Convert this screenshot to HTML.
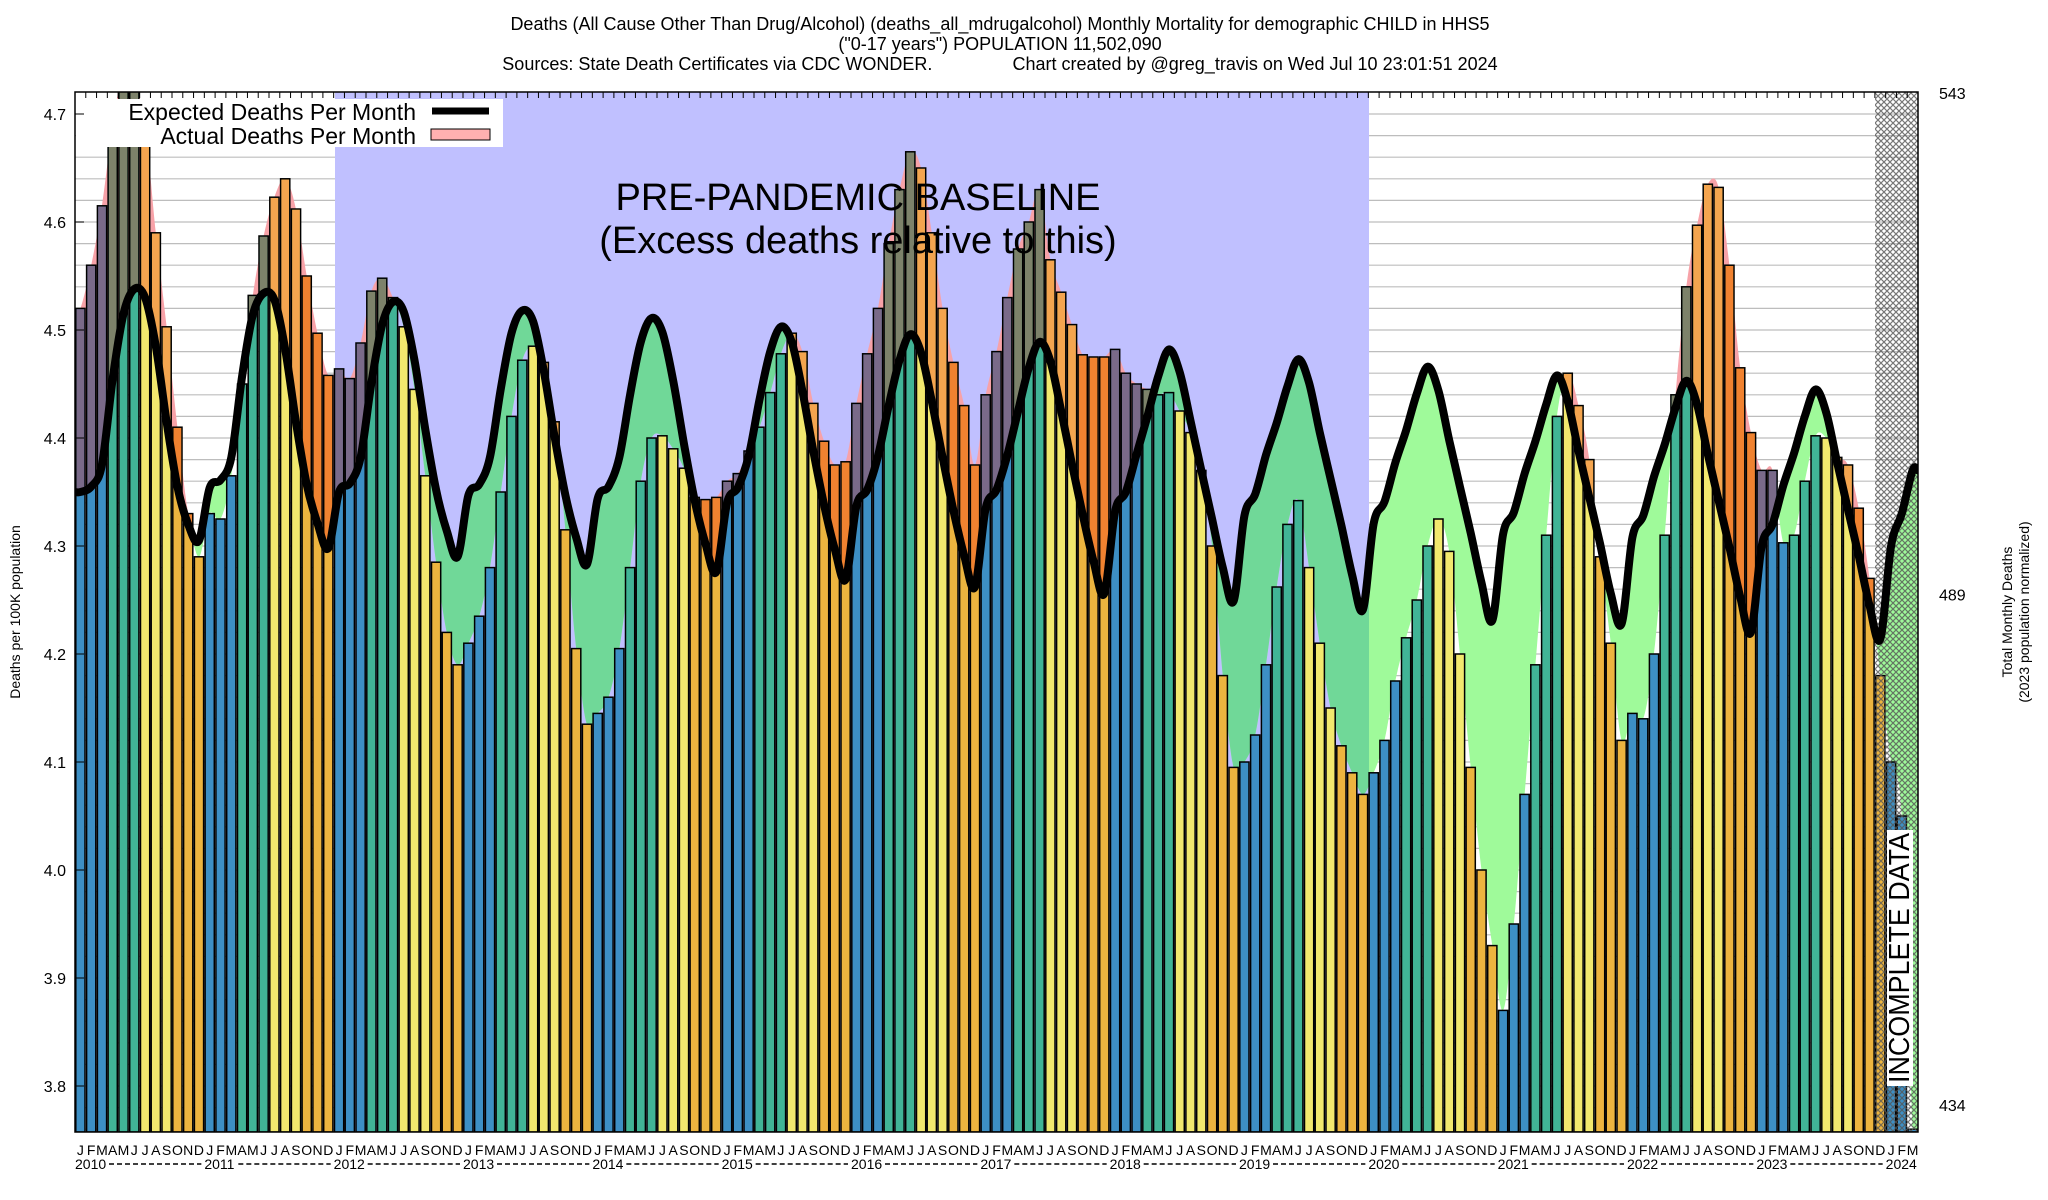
<!DOCTYPE html>
<html><head><meta charset="utf-8"><style>
body{margin:0;background:#fff;}
svg{display:block;font-family:"Liberation Sans",sans-serif;}
</style></head><body>
<svg id="chart" width="2048" height="1200" viewBox="0 0 2048 1200" xmlns="http://www.w3.org/2000/svg">
<defs>
<pattern id="hatch" patternUnits="userSpaceOnUse" width="6" height="6">
<path d="M0,0 L6,6 M6,0 L0,6" stroke="#555" stroke-width="1.2"/>
</pattern>
<clipPath id="plotClip"><rect x="75" y="92" width="1843" height="1040"/></clipPath>
<clipPath id="baseClip"><rect x="335" y="92" width="1034" height="1040"/></clipPath>
<clipPath id="aboveExp"><path id="aboveExpPath"/></clipPath>
<clipPath id="aboveAct"><path id="aboveActPath"/></clipPath>
</defs>
<g id="titles" font-size="18" text-anchor="middle" fill="#000">
<text x="1000" y="30">Deaths (All Cause Other Than Drug/Alcohol) (deaths_all_mdrugalcohol) Monthly Mortality for demographic CHILD in HHS5</text>
<text x="1000" y="50">("0-17 years") POPULATION 11,502,090</text>
<text x="1000" y="70" xml:space="preserve">Sources: State Death Certificates via CDC WONDER.                Chart created by @greg_travis on Wed Jul 10 23:01:51 2024</text>
</g>
<rect x="75" y="92" width="1843" height="1040" fill="#fff"/>
<g id="grid"></g>
<rect x="335" y="92" width="1034" height="1040" fill="#c0c0ff"/>
<g id="fills" clip-path="url(#plotClip)"></g>
<g id="bars" clip-path="url(#plotClip)"></g>
<g id="overlay" clip-path="url(#plotClip)"></g>
<rect x="1875" y="92" width="43" height="1040" fill="url(#hatch)" opacity="0.8"/>
<g id="line" clip-path="url(#plotClip)"></g>
<text x="858" y="210" font-size="38" text-anchor="middle">PRE-PANDEMIC BASELINE</text>
<text x="858" y="253" font-size="38" text-anchor="middle">(Excess deaths relative to this)</text>
<g>
<rect x="76" y="99" width="427" height="48" fill="#fff"/>
<text x="416" y="120" font-size="23" text-anchor="end">Expected Deaths Per Month</text>
<line x1="432" y1="111" x2="489" y2="111" stroke="#000" stroke-width="7"/>
<text x="416" y="144" font-size="23" text-anchor="end">Actual Deaths Per Month</text>
<rect x="431" y="129" width="59" height="11" fill="#ffb0b0" stroke="#000" stroke-width="1"/>
</g>
<g>
<rect x="1887" y="830" width="26" height="256" fill="#fff"/>
<text x="1909" y="1083" font-size="29" transform="rotate(-90 1909 1083)" textLength="250" lengthAdjust="spacingAndGlyphs">INCOMPLETE DATA</text>
</g>
<rect x="75" y="92" width="1843" height="1040" fill="none" stroke="#000" stroke-width="1.5"/>
<g id="axes"></g>
<text x="20" y="612" font-size="14" text-anchor="middle" transform="rotate(-90 20 612)">Deaths per 100K population</text>
<g font-size="14" text-anchor="middle">
<text x="2012" y="612" transform="rotate(-90 2012 612)">Total Monthly Deaths</text>
<text x="2029" y="612" transform="rotate(-90 2029 612)">(2023 population normalized)</text>
</g>
</svg>
<script>
const monthLetters = ["J","F","M","A","M","J","J","A","S","O","N","D"];
const years = [2010,2011,2012,2013,2014,2015,2016,2017,2018,2019,2020,2021,2022,2023,2024];
const yTicks = [3.8,3.9,4.0,4.1,4.2,4.3,4.4,4.5,4.6,4.7];
const rightTicks = [434,489,543];
const actual = [
4.52,4.56,4.615,4.69,4.74,4.73,4.69,4.59,4.503,4.41,4.33,4.29,
4.33,4.325,4.365,4.45,4.532,4.587,4.623,4.64,4.612,4.55,4.497,4.458,
4.464,4.455,4.488,4.536,4.548,4.53,4.503,4.445,4.365,4.285,4.22,4.19,
4.21,4.235,4.28,4.35,4.42,4.472,4.485,4.47,4.415,4.315,4.205,4.135,
4.145,4.16,4.205,4.28,4.36,4.40,4.402,4.39,4.372,4.345,4.343,4.345,
4.36,4.367,4.388,4.41,4.442,4.478,4.497,4.48,4.432,4.397,4.375,4.378,
4.432,4.478,4.52,4.58,4.63,4.665,4.65,4.59,4.52,4.47,4.43,4.375,
4.44,4.48,4.53,4.575,4.60,4.63,4.565,4.535,4.505,4.477,4.475,4.475,
4.482,4.46,4.45,4.445,4.44,4.442,4.425,4.405,4.37,4.30,4.18,4.095,
4.10,4.125,4.19,4.262,4.32,4.342,4.28,4.21,4.15,4.115,4.09,4.07,
4.09,4.12,4.175,4.215,4.25,4.30,4.325,4.295,4.20,4.095,4.00,3.93,
3.87,3.95,4.07,4.19,4.31,4.42,4.46,4.43,4.38,4.29,4.21,4.12,
4.145,4.14,4.20,4.31,4.44,4.54,4.597,4.635,4.632,4.56,4.465,4.405,
4.37,4.37,4.303,4.31,4.36,4.402,4.40,4.382,4.375,4.335,4.27,4.18,
4.10,4.05,3.76];
const expected = [
4.350,4.355,4.375,4.455,4.515,4.538,4.530,4.485,4.415,4.355,4.320,4.305,
4.354,4.361,4.382,4.457,4.514,4.534,4.528,4.482,4.415,4.357,4.321,4.298,
4.350,4.358,4.382,4.451,4.505,4.526,4.517,4.472,4.408,4.352,4.314,4.290,
4.347,4.357,4.382,4.445,4.497,4.518,4.508,4.462,4.401,4.347,4.308,4.283,
4.344,4.355,4.382,4.440,4.489,4.511,4.498,4.453,4.395,4.342,4.302,4.276,
4.340,4.354,4.383,4.435,4.480,4.503,4.489,4.443,4.388,4.338,4.297,4.269,
4.337,4.352,4.383,4.430,4.472,4.496,4.479,4.434,4.382,4.333,4.291,4.262,
4.335,4.352,4.384,4.425,4.465,4.489,4.471,4.425,4.376,4.329,4.286,4.256,
4.332,4.350,4.385,4.420,4.457,4.482,4.461,4.416,4.370,4.325,4.280,4.249,
4.328,4.348,4.384,4.414,4.448,4.473,4.451,4.405,4.362,4.319,4.273,4.241,
4.321,4.341,4.377,4.407,4.441,4.466,4.444,4.398,4.355,4.312,4.266,4.231,
4.311,4.331,4.367,4.397,4.431,4.458,4.434,4.388,4.345,4.302,4.256,4.228,
4.308,4.328,4.364,4.394,4.428,4.453,4.431,4.385,4.342,4.299,4.253,4.220,
4.300,4.320,4.356,4.386,4.420,4.445,4.423,4.377,4.334,4.291,4.245,4.214,
4.300,4.330,4.370];

const L=75, R=1918, T=92, B=1132, W=(R-L)/171;
const NS="http://www.w3.org/2000/svg";
function yS(v){return 330-(v-4.5)*1080;}
function xC(i){return L+(i+0.5)*W;}
function yR(v){return 1105-(v-434)*(1105-93)/(543-434);}
function mk(tag,attrs,parent){const e=document.createElementNS(NS,tag);for(const k in attrs)e.setAttribute(k,attrs[k]);parent.appendChild(e);return e;}
function smooth(pts){
  let d="M"+pts[0][0].toFixed(1)+","+pts[0][1].toFixed(1);
  for(let i=0;i<pts.length-1;i++){
    const p0=pts[Math.max(0,i-1)],p1=pts[i],p2=pts[i+1],p3=pts[Math.min(pts.length-1,i+2)];
    const c1x=p1[0]+(p2[0]-p0[0])/6,c1y=p1[1]+(p2[1]-p0[1])/6;
    const c2x=p2[0]-(p3[0]-p1[0])/6,c2y=p2[1]-(p3[1]-p1[1])/6;
    d+=" C"+c1x.toFixed(1)+","+c1y.toFixed(1)+" "+c2x.toFixed(1)+","+c2y.toFixed(1)+" "+p2[0].toFixed(1)+","+p2[1].toFixed(1);
  }
  return d;
}
const ptsA=[[L,yS(actual[0])]].concat(actual.map((v,i)=>[xC(i),yS(v)])).concat([[R,yS(actual[actual.length-1])]]);
const ptsE=[[L,yS(expected[0])]].concat(expected.map((v,i)=>[xC(i),yS(v)])).concat([[R,yS(expected[expected.length-1])]]);
const curveA=smooth(ptsA), curveE=smooth(ptsE);
document.getElementById('aboveExpPath').setAttribute('d',curveE+" L"+R+","+(T-10)+" L"+L+","+(T-10)+" Z");
document.getElementById('aboveActPath').setAttribute('d',curveA+" L"+R+","+(T-10)+" L"+L+","+(T-10)+" Z");

const grid=document.getElementById('grid');
for(let k=0;k<=48;k++){
  const v=3.76+k*0.02; const y=yS(v);
  if(y<T+1||y>B-1)continue;
  const g=mk('line',{x1:L,x2:R,y1:y,y2:y,stroke:'#bdbdbd','stroke-width':1.2},grid);
  
  
}
const fills=document.getElementById('fills');
const pink=mk('path',{d:curveA+" L"+R+","+B+" L"+L+","+B+" Z",fill:'#f7a2a8','clip-path':'url(#aboveExp)'},fills);


const green=mk('path',{d:curveE+" L"+R+","+B+" L"+L+","+B+" Z",fill:'#9ffa9a','clip-path':'url(#aboveAct)'},fills);


const gb=mk('g',{'clip-path':'url(#baseClip)'},fills);
const green2=mk('path',{d:curveE+" L"+R+","+B+" L"+L+","+B+" Z",fill:'#70d898','clip-path':'url(#aboveAct)'},gb);



const colors=['#3d8fc4','#3d8fc4','#3d8fc4','#41b496','#41b496','#41b496','#f2e86e','#f2e86e','#f2e86e','#ecb43f','#ecb43f','#ecb43f'];
const bars=document.getElementById('bars'), ov=document.getElementById('overlay');
const ovg=mk('g',{'clip-path':'url(#aboveExp)'},ov);
actual.forEach((v,i)=>{
  const x=L+i*W+0.8, y=yS(v), w=W-1.6;
  const b=mk('rect',{x:x.toFixed(1),y:y.toFixed(1),width:w.toFixed(1),height:(B-y).toFixed(1),fill:colors[i%12],stroke:'#000','stroke-width':1.5},bars);
  
  
  const o=mk('rect',{x:(x+0.8).toFixed(1),y:(y+0.8).toFixed(1),width:(w-1.6).toFixed(1),height:(B-y).toFixed(1),fill:'rgb(248,30,18)','fill-opacity':0.33},ovg);
  
  
});
const ln=mk('path',{d:curveE,fill:'none',stroke:'#000','stroke-width':8,'stroke-linejoin':'round','stroke-linecap':'round'},document.getElementById('line'));



const ax=document.getElementById('axes');
yTicks.forEach(v=>{
  const y=yS(v);
  const t=mk('text',{x:66,y:y+6,'font-size':16,'text-anchor':'end'},ax);
  t.textContent=v.toFixed(1);
  
  
  mk('line',{x1:L,x2:L+9,y1:y,y2:y,stroke:'#000','stroke-width':1},ax);
});
rightTicks.forEach(v=>{
  const t=mk('text',{x:1939,y:yR(v)+6,'font-size':16},ax);
  t.textContent=v;
  
  
});
for(let i=0;i<=171;i++){
  const x=L+i*W;
  mk('line',{x1:x,x2:x,y1:T,y2:T+6,stroke:'#000','stroke-width':1},ax);
}
actual.forEach((v,i)=>{
  const t=mk('text',{x:xC(i).toFixed(1),y:1155,'font-size':14,'text-anchor':'middle'},ax);
  t.textContent=monthLetters[i%12];
  
  
});
years.forEach((yr,k)=>{
  const x0=L+k*12*W;
  const t=mk('text',{x:x0,y:1169,'font-size':14},ax);
  t.textContent=yr;
  
  
  if(k<years.length-1){
    mk('line',{x1:x0+34,x2:x0+12*W-3,y1:1164,y2:1164,stroke:'#000','stroke-width':1.5,'stroke-dasharray':'5,3'},ax);
  }
});
</script>
</body></html>
